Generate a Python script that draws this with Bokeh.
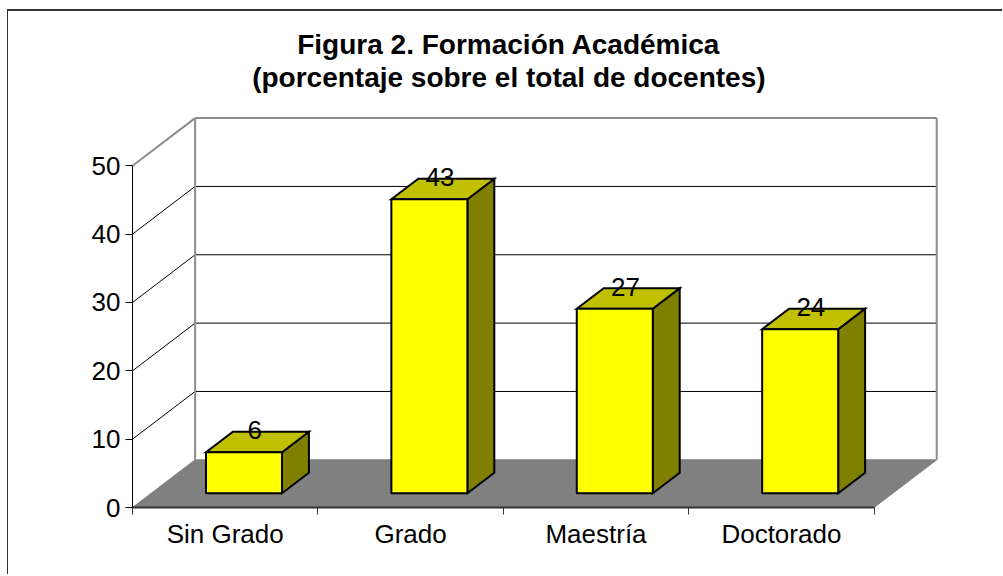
from bokeh.plotting import figure
from bokeh.models import Range1d, FixedTicker, ColumnDataSource
from bokeh.core.properties import value
from bokeh.embed import file_html
from bokeh.resources import INLINE

# ---- data ----
categories = ["Sin Grado", "Grado", "Maestría", "Doctorado"]
values = [6, 43, 27, 24]
y_ticks = [0, 10, 20, 30, 40, 50]
title_lines = ["Figura 2. Formación Académica", "(porcentaje sobre el total de docentes)"]

# ---- 3D geometry (in data units) ----
N = len(categories)
YMAX = 50
DX = 0.3377   # depth offset, category units
DY = 6.98     # depth offset, value units
F0, F1 = 0.30, 0.73  # bar depth span (fraction of floor depth)
BW = 0.41     # bar width (category units)

FONT = value("Liberation Sans")
W, H = 995, 565
ML, MR, MB = 124, 40, 69
px_per_cat = 185.4
px_per_val = 6.834
x_end = (W - ML - MR) / px_per_cat
y_end = (H - MB) / px_per_val

p = figure(width=W, height=H, output_backend="svg", toolbar_location=None,
           x_range=Range1d(0, x_end), y_range=Range1d(0, y_end),
           min_border_left=ML, min_border_right=MR, min_border_bottom=MB,
           min_border_top=0)
p.styles = {"margin-left": "7px", "margin-top": "9px",
            "border-top": "2px solid #333", "border-left": "1px solid #333"}
p.xgrid.visible = False
p.ygrid.visible = False
p.outline_line_color = None
p.background_fill_color = "white"
p.border_fill_color = "white"

# floor
p.patch([0, N, N + DX, DX], [0, 0, DY, DY], fill_color="#808080", line_color="#808080", line_width=1)

# wall grid lines (black)
gx, gy = [], []
for t in y_ticks[1:-1]:
    gx.append([0, DX]); gy.append([t, t + DY])
    gx.append([DX, N + DX]); gy.append([t + DY, t + DY])
p.multi_line(gx, gy, line_color="black", line_width=1)

# wall borders (gray)
bx = [[DX, DX], [DX, N + DX], [N + DX, N + DX], [0, DX]]
by = [[DY, YMAX + DY], [YMAX + DY, YMAX + DY], [DY, YMAX + DY], [YMAX, YMAX + DY]]
p.multi_line(bx, by, line_color="#8c8c8c", line_width=2)

# bars
xl = [i + 0.5 - BW / 2 + F0 * DX for i in range(N)]
xr = [a + BW for a in xl]
yb = [F0 * DY] * N
yt = [F0 * DY + v for v in values]
ddx = (F1 - F0) * DX
ddy = (F1 - F0) * DY

side_xs = [[r, r + ddx, r + ddx, r] for r in xr]
side_ys = [[b, b + ddy, t + ddy, t] for b, t in zip(yb, yt)]
top_xs = [[l, r, r + ddx, l + ddx] for l, r in zip(xl, xr)]
top_ys = [[t, t, t + ddy, t + ddy] for t in yt]

p.patches(side_xs, side_ys, fill_color="#808000", line_color="black", line_width=2, line_join="miter")
p.patches(top_xs, top_ys, fill_color="#C0C000", line_color="black", line_width=2, line_join="miter")
p.quad(left=xl, right=xr, bottom=yb, top=yt, fill_color="#FFFF00", line_color="black", line_width=2)

# data labels
lab = ColumnDataSource(dict(
    x=[i + 0.5 + (F0 + F1) / 2 * DX - 0.015 for i in range(N)],
    y=[t + 3.2 for t in yt],
    text=[str(v) for v in values]))
p.text(x="x", y="y", text="text", source=lab, text_font=FONT, text_font_size="26px",
       text_align="center", text_baseline="alphabetic", text_color="black")

# title (centered over the chart)
p.text(x=[N / 2 + 0.03] * 2, y=[67.7, 62.9], text=title_lines, text_font=FONT,
       text_font_size="28px", text_font_style="bold", text_align="center",
       text_baseline="alphabetic", text_color="black")

# y axis
ya = p.yaxis[0]
ya.ticker = FixedTicker(ticks=y_ticks, minor_ticks=[])
ya.bounds = (0, YMAX)
ya.axis_line_color = "black"
ya.axis_line_width = 1
ya.major_tick_out = 7
ya.major_tick_in = 0
ya.major_tick_line_color = "black"
ya.minor_tick_line_color = None
ya.major_label_standoff = 5
ya.major_label_text_font = "Liberation Sans"
ya.major_label_text_font_size = "26px"
ya.major_label_text_color = "black"

# x axis
xa = p.xaxis[0]
xa.ticker = FixedTicker(ticks=[i + 0.5 for i in range(N)], minor_ticks=list(range(N + 1)))
xa.major_label_overrides = {i + 0.5: c for i, c in enumerate(categories)}
xa.bounds = (0, N)
xa.axis_line_color = "#333333"
xa.axis_line_width = 2
xa.major_tick_out = 0
xa.major_tick_in = 0
xa.major_tick_line_color = None
xa.minor_tick_out = 7
xa.minor_tick_in = 0
xa.minor_tick_line_color = "#333333"
xa.major_label_standoff = 4
xa.major_label_text_font = "Liberation Sans"
xa.major_label_text_font_size = "26px"
xa.major_label_text_color = "black"

open("out.html", "w").write(file_html(p, INLINE))
